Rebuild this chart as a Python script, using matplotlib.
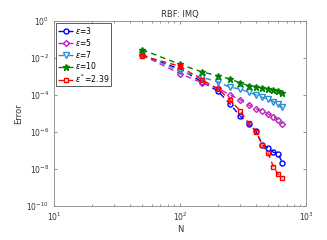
"""
RBF: IMQ convergence - error vs N for several shape parameters.
"""

import numpy as np
import matplotlib
matplotlib.use("Agg")
import matplotlib.pyplot as plt

# ------------------------
# Data
# ------------------------
N = [50, 100, 150, 200, 250, 300, 350, 400, 450, 500, 550, 600, 650]

log_err_eps3 = [-1.85, -2.60, -3.30, -3.80, -4.50, -5.15, -5.55, -5.95,
                -6.70, -6.88, -7.10, -7.18, -7.69]
log_err_eps5 = [-1.85, -2.85, -3.35, -3.65, -4.00, -4.27, -4.54, -4.76,
                -4.86, -5.04, -5.17, -5.35, -5.58]
log_err_eps7 = [-1.80, -2.72, -3.05, -3.30, -3.59, -3.68, -3.86, -4.00,
                -4.14, -4.23, -4.36, -4.50, -4.68]
log_err_eps10 = [-1.55, -2.35, -2.76, -2.97, -3.14, -3.35, -3.50, -3.55,
                 -3.62, -3.68, -3.73, -3.78, -3.89]
log_err_opt = [-1.89, -2.45, -3.20, -3.66, -4.29, -4.86, -5.53, -5.98,
               -6.70, -7.15, -7.88, -8.29, -8.50]

labels = [r"$\epsilon$=3", r"$\epsilon$=5", r"$\epsilon$=7",
          r"$\epsilon$=10", r"$\epsilon^*$=2.39"]

series = [log_err_eps3, log_err_eps5, log_err_eps7, log_err_eps10, log_err_opt]
colors = ["#0000ff", "#c020c0", "#2a8fd0", "#008000", "#ff0000"]
markers = ["o", "D", "v", "*", "s"]
msizes = [3.6, 3.0, 3.8, 5.0, 3.3]

fig = plt.figure(figsize=(3.27, 2.40), dpi=100)
ax = fig.add_axes([0.165, 0.142, 0.771, 0.771])

for vals, col, mk, ms, lab in zip(series, colors, markers, msizes, labels):
    ax.loglog(N, 10.0 ** np.array(vals), linestyle="--", color=col,
              linewidth=1.0, marker=mk, markersize=ms,
              markerfacecolor="none" if mk != "*" else col,
              markeredgewidth=1.0, dashes=(4, 3), label=lab)

ax.set_xlim(10, 1000)
ax.set_ylim(1e-10, 1)
ax.set_yticks([1e-10, 1e-8, 1e-6, 1e-4, 1e-2, 1e0])
ax.yaxis.set_minor_locator(matplotlib.ticker.NullLocator())
ax.tick_params(which="both", direction="in", top=True, right=True,
               labelsize=5.5, colors="#666666", labelcolor="#333333")
ax.tick_params(which="major", length=2.5, width=0.5)
ax.tick_params(which="minor", length=1.5, width=0.5)
for sp in ax.spines.values():
    sp.set_color("#888888")
    sp.set_linewidth(0.6)

ax.set_xlabel("N", fontsize=6, labelpad=1, color="#333333")
ax.set_ylabel("Error", fontsize=6, labelpad=2, color="#333333")
ax.set_title("RBF: IMQ", fontsize=6, pad=3, color="#333333")

leg = ax.legend(loc="upper left", fontsize=5.5, frameon=True, fancybox=False,
                handlelength=2.0, handletextpad=0.2, labelspacing=0.1,
                borderpad=0.25, borderaxespad=0.3)
leg.get_frame().set_edgecolor("#333333")
leg.get_frame().set_linewidth(0.7)

fig.savefig("out.png", dpi=100)
